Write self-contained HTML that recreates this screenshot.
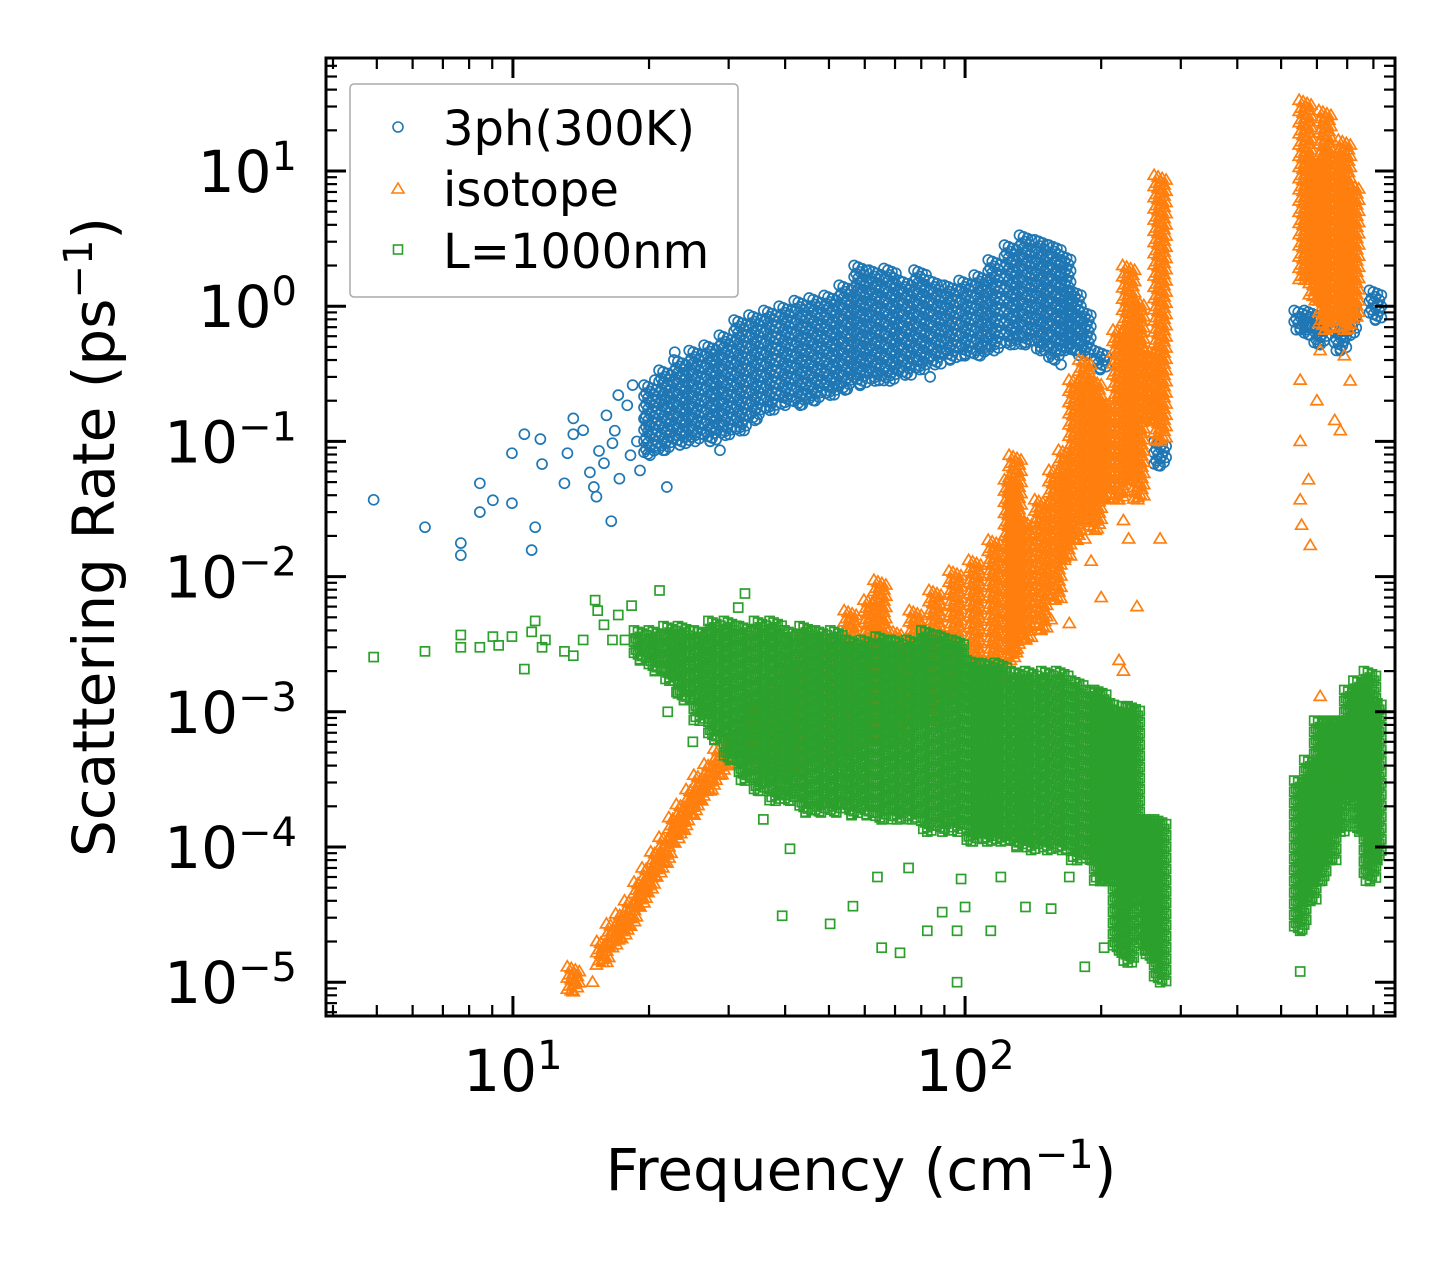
<!DOCTYPE html>
<html><head><meta charset="utf-8">
<style>
html,body{margin:0;padding:0;background:#fff;}
svg{display:block;font-family:"DejaVu Sans","Liberation Sans",sans-serif;}
</style></head>
<body>
<svg id="chart" width="1455" height="1265" viewBox="0 0 1455 1265" xmlns="http://www.w3.org/2000/svg">
<rect width="1455" height="1265" fill="#fff"/>
<g id="plot"></g>
<g id="axes"></g>
<text x="861" y="1190" font-size="58" text-anchor="middle">Frequency (cm<tspan dy="-22" font-size="40">−1</tspan><tspan dy="22">)</tspan></text>
<text transform="translate(114,537) rotate(-90)" font-size="58" text-anchor="middle">Scattering Rate (ps<tspan dy="-22" font-size="40">−1</tspan><tspan dy="22">)</tspan></text>
<g>
<rect x="350" y="84" width="388" height="213" rx="4" fill="#fff" fill-opacity="0.85" stroke="#aaa" stroke-width="1.5"/>
<g>
<circle cx="398" cy="127" r="5" fill="none" stroke="#1f77b4" stroke-width="1.6"/>
<text x="443" y="145" font-size="48">3ph(300K)</text></g>
<g>
<path d="M398 183 L404 193 L392 193 Z" fill="none" stroke="#ff7f0e" stroke-width="1.6"/>
<text x="443" y="206" font-size="48">isotope</text></g>
<g>
<rect x="393.5" y="245" width="9" height="9" fill="none" stroke="#2ca02c" stroke-width="1.6"/>
<text x="443" y="268" font-size="48">L=1000nm</text></g>
</g>
</svg>
<script>
// ---- data: individual points [freq cm^-1, rate ps^-1] ----
const bluePoints = [[4.92,0.037],[6.39,0.0232],[7.67,0.0177],[7.67,0.0144],[8.45,0.049],[8.45,0.030],[9.03,0.0367],[9.95,0.0818],[9.95,0.0349],[10.6,0.113],[11.0,0.0157],[11.2,0.0232],[11.5,0.104],[11.6,0.068],[13.0,0.049],[13.2,0.0818],[13.6,0.113],[13.6,0.148],[14.3,0.121],[14.8,0.059],[15.1,0.046],[15.3,0.039],[15.9,0.069],[16.1,0.156],[16.5,0.0257],[16.6,0.097],[17.1,0.22],[17.2,0.053],[17.9,0.185],[18.2,0.079],[18.4,0.261],[19.1,0.061],[19.6,0.148],[20.6,0.284],[21.9,0.046],[21.6,0.20],[22.8,0.457],[28.7,0.086],[83.7,0.30],[163,0.37],[16.8,0.12],[18.8,0.10],[20.0,0.13],[15.5,0.085]];
// dense columns [freq, low rate, high rate]
const blueBands = [[20.1,0.079,0.261],[21.7,0.086,0.336],[23.4,0.094,0.40],[25.3,0.10,0.47],[27.3,0.10,0.515],[29.5,0.111,0.61],[31.8,0.12,0.79],[34.3,0.143,0.86],[37.0,0.17,0.93],[40.0,0.185,1.0],[43.2,0.185,1.1],[46.6,0.20,1.15],[50.3,0.22,1.2],[54.3,0.24,1.43],[58.6,0.26,2.0],[63.2,0.28,1.85],[68.2,0.28,1.9],[73.7,0.31,1.55],[79.5,0.34,1.85],[85.8,0.37,1.55],[92.7,0.40,1.43],[100,0.43,1.55],[108,0.43,1.7],[116,0.47,2.2],[126,0.52,2.83],[136,0.52,3.35],[147,0.47,3.1],[158,0.40,2.83],[166,0.47,2.4],[175,0.47,1.31],[184,0.43,0.93],[199,0.34,0.47],[270,0.066,0.10],[551,0.67,0.93],[580,0.61,0.93],[610,0.52,0.79],[676,0.47,0.79],[711,0.61,1.1],[808,0.79,1.31]];
const orangePoints = [[13.5,1.07e-5],[15.0,1.0e-5],[15.3,1.34e-5],[551,0.284],[551,0.10],[551,0.037],[555,0.024],[580,0.017],[575,0.052],[600,0.20],[657,0.143],[676,0.12],[711,0.28],[610,0.47],[690,0.43],[184,0.019],[190,0.013],[224,0.026],[230,0.019],[270,0.019],[155,4.8e-3],[136,3.4e-3],[219,2.4e-3],[224,2.0e-3],[263,0.2],[270,0.143],[610,1.3e-3],[230,2.8e-5],[240,2.2e-5],[170,4.5e-3],[200,7.0e-3],[240,6e-3]];
const orangeBands = [[13.6,0.85e-5,1.3e-5],[15.8,1.4e-5,2.0e-5],[16.6,1.8e-5,2.7e-5],[17.4,2.1e-5,3.2e-5],[18.2,2.6e-5,4.0e-5],[19.1,3.6e-5,5.5e-5],[19.9,4.6e-5,7.0e-5],[20.8,6.0e-5,9.2e-5],[21.7,7.6e-5,1.18e-4],[22.8,1.07e-4,1.65e-4],[23.7,1.33e-4,2.06e-4],[24.9,1.72e-4,2.66e-4],[25.9,2.2e-4,3.4e-4],[27.3,2.6e-4,4.1e-4],[28.7,3.4e-4,5.3e-4],[30.2,4.0e-4,6.3e-4],[31.8,4.8e-4,7.5e-4],[33.4,4.4e-4,1.22e-3],[37.0,3.6e-4,1.45e-3],[41.0,3.6e-4,2.4e-3],[45.5,4.4e-4,4.0e-3],[50.3,4.4e-4,3.4e-3],[55.7,5.2e-4,5.6e-3],[61.6,6.2e-4,6.7e-3],[64.8,6.2e-4,9.4e-3],[70.0,6.2e-4,4.0e-3],[77.6,8.6e-4,5.6e-3],[85.8,8.6e-4,7.9e-3],[95.0,1.22e-3,1.1e-2],[105,1.22e-3,1.32e-2],[116,1.7e-3,1.86e-2],[126,2.4e-3,5.2e-2],[129,2.86e-3,7.9e-2],[136,3.4e-3,2.6e-2],[147,4.0e-3,3.7e-2],[158,6.7e-3,6.1e-2],[166,1.32e-2,8.6e-2],[175,1.86e-2,0.284],[184,2.6e-2,0.40],[194,2.2e-2,0.284],[203,3.7e-2,0.20],[219,3.7e-2,0.665],[230,5.2e-2,2.0],[241,3.7e-2,1.1],[258,0.143,0.47],[270,0.10,9.3],[565,1.56,33.4],[595,1.1,12],[625,0.665,28],[657,0.79,14.3],[690,0.665,16.9],[720,0.8,8]];
const greenPoints = [[4.92,2.54e-3],[6.39,2.8e-3],[7.67,3.7e-3],[7.67,3.0e-3],[8.45,3.0e-3],[9.03,3.6e-3],[9.3,3.1e-3],[9.95,3.6e-3],[10.6,2.07e-3],[11.0,3.9e-3],[11.2,4.7e-3],[11.6,3.0e-3],[11.8,3.4e-3],[13.0,2.8e-3],[13.6,2.6e-3],[14.3,3.4e-3],[15.2,6.7e-3],[15.4,5.6e-3],[15.9,4.4e-3],[16.6,3.4e-3],[17.1,5.2e-3],[17.7,3.4e-3],[18.3,6.1e-3],[21.1,7.9e-3],[32.6,7.5e-3],[31.5,5.9e-3],[23.0,1.4e-3],[22.0,1.0e-3],[25.0,6.0e-4],[39.4,3.1e-5],[50.3,2.7e-5],[56.5,3.65e-5],[65.4,1.8e-5],[71.8,1.65e-5],[82.5,2.4e-5],[89,3.3e-5],[96,2.4e-5],[100,3.6e-5],[114,2.4e-5],[96,1.0e-5],[136,3.6e-5],[155,3.5e-5],[184,1.3e-5],[203,1.8e-5],[41,9.7e-5],[35.8,1.6e-4],[551,1.2e-5],[98,5.8e-5],[64,6e-5],[75,7e-5],[120,6e-5],[170,6e-5]];
const greenBands = [[19.1,2.4e-3,4.0e-3],[20.6,2.0e-3,4.0e-3],[22.2,1.7e-3,4.3e-3],[23.9,1.22e-3,4.3e-3],[25.9,8.6e-4,4.0e-3],[27.9,6.2e-4,4.7e-3],[30.2,4.4e-4,4.7e-3],[32.6,3.1e-4,4.3e-3],[35.2,2.6e-4,4.7e-3],[38.1,2.2e-4,4.7e-3],[41.1,2.2e-4,4.0e-3],[44.4,1.8e-4,4.3e-3],[48.0,1.8e-4,4.0e-3],[51.9,1.8e-4,4.0e-3],[56.1,1.72e-4,3.4e-3],[60.6,1.72e-4,3.4e-3],[65.4,1.6e-4,3.6e-3],[70.7,1.6e-4,3.4e-3],[76.4,1.6e-4,3.4e-3],[82.5,1.3e-4,4.0e-3],[89.1,1.3e-4,3.7e-3],[96.3,1.3e-4,3.4e-3],[104,1.1e-4,2.4e-3],[112,1.1e-4,2.3e-3],[120,1.1e-4,2.3e-3],[130,1.0e-4,2.0e-3],[140,9.5e-5,2.0e-3],[152,9.5e-5,2.0e-3],[164,9.5e-5,2.0e-3],[177,8.0e-5,1.7e-3],[191,8.0e-5,1.45e-3],[199,5.6e-5,1.45e-3],[207,5.6e-5,1.22e-3],[219,1.72e-5,1.03e-3],[229,1.4e-5,1.1e-3],[236,4.0e-5,1.1e-3],[250,1.72e-5,1.6e-4],[259,1.5e-5,1.6e-4],[270,1.0e-5,1.6e-4],[551,2.4e-5,3.1e-4],[580,4.0e-5,4.4e-4],[610,5.6e-5,8.6e-4],[642,8.0e-5,8.6e-4],[676,1.3e-4,8.6e-4],[711,2.2e-4,1.45e-3],[745,1.3e-4,1.7e-3],[786,5.6e-5,2.0e-3],[808,8e-5,1.22e-3]];
const xTickValues = [10, 100];
const xTickLabels = ["1", "2"];
const yTickValues = [1e-5,1e-4,1e-3,1e-2,1e-1,1,10];
const yTickLabels = ["−5","−4","−3","−2","−1","0","1"];

// ---- axes ----
const L=326,R=1395,T=58,B=1016;
const xMinLog=Math.log10(3.86), xMaxLog=Math.log10(893);
const yMinLog=-5.25, yMaxLog=1.836;
function xs(v){return L+(Math.log10(v)-xMinLog)/(xMaxLog-xMinLog)*(R-L);}
function ys(v){return B-(Math.log10(v)-yMinLog)/(yMaxLog-yMinLog)*(B-T);}
const NS="http://www.w3.org/2000/svg";
const plot=document.getElementById('plot');
const axes=document.getElementById('axes');
function mk(tag,attrs,parent){const e=document.createElementNS(NS,tag);for(const k in attrs)e.setAttribute(k,attrs[k]);parent.appendChild(e);return e;}

function marker(kind,x,y,g,color){
  let e;
  if(kind==='circle'){e=mk('circle',{cx:x,cy:y,r:5,fill:'none',stroke:color,'stroke-width':1.7},g);}
  else if(kind==='tri'){e=mk('path',{d:`M${x} ${y-6} L${x+6} ${y+4} L${x-6} ${y+4} Z`,fill:'none',stroke:color,'stroke-width':1.7},g);}
  else {e=mk('rect',{x:x-4.5,y:y-4.5,width:9,height:9,fill:'none',stroke:color,'stroke-width':1.7},g);}
  
  
}
const offs=[-6,-2,2,6,0,-4,4];
function drawSeries(name,kind,color,points,bands){
  const g=mk('g',{},plot);
  
  
  bands.forEach(b=>{
    const x=xs(b[0]), y1=ys(b[2]), y0=ys(b[1]);
    let i=0;
    for(let y=y1;y<=y0+0.1;y+=1.6){marker(kind,x+offs[i%offs.length],y,g,color); i++;}
    marker(kind,x,y0,g,color);
  });
  points.forEach(p=>marker(kind,xs(p[0]),ys(p[1]),g,color));
}
drawSeries('3ph','circle','#1f77b4',bluePoints,blueBands);
drawSeries('isotope','tri','#ff7f0e',orangePoints,orangeBands);
drawSeries('boundary','square','#2ca02c',greenPoints,greenBands);

const cp=mk('clipPath',{id:'cp'},document.getElementById('chart'));
mk('rect',{x:L,y:T,width:R-L,height:B-T},cp);
plot.setAttribute('clip-path','url(#cp)');

function tick(x1,y1,x2,y2,w){const t=mk('line',{x1,y1,x2,y2,stroke:'#000','stroke-width':w},axes);
  
  }
for(let d=0;d<=3;d++){for(let m=1;m<=9;m++){const v=m*Math.pow(10,d);const lv=Math.log10(v);if(lv<xMinLog||lv>xMaxLog)continue;
  const x=xs(v);const len=m===1?20:11;const w=m===1?3:2.2;tick(x,B,x,B-len,w);tick(x,T,x,T+len,w);}}
for(let d=-6;d<=1;d++){for(let m=1;m<=9;m++){const v=m*Math.pow(10,d);const lv=Math.log10(v);if(lv<yMinLog||lv>yMaxLog)continue;
  const y=ys(v);const len=m===1?20:11;const w=m===1?3:2.2;tick(L,y,L+len,y,w);tick(R,y,R-len,y,w);}}
mk('rect',{x:L,y:T,width:R-L,height:B-T,fill:'none',stroke:'#000','stroke-width':3},axes);
xTickValues.forEach((v,i)=>{
  const t=mk('text',{x:xs(v),y:1091,'font-size':58,'text-anchor':'middle'},axes);
  
  
  t.innerHTML='10<tspan dy="-22" font-size="40">'+xTickLabels[i]+'</tspan>';
});
yTickValues.forEach((v,i)=>{
  const t=mk('text',{x:297,y:ys(v)+21,'font-size':58,'text-anchor':'end'},axes);
  
  
  t.innerHTML='10<tspan dy="-22" font-size="40">'+yTickLabels[i]+'</tspan>';
});
</script>
</body></html>
